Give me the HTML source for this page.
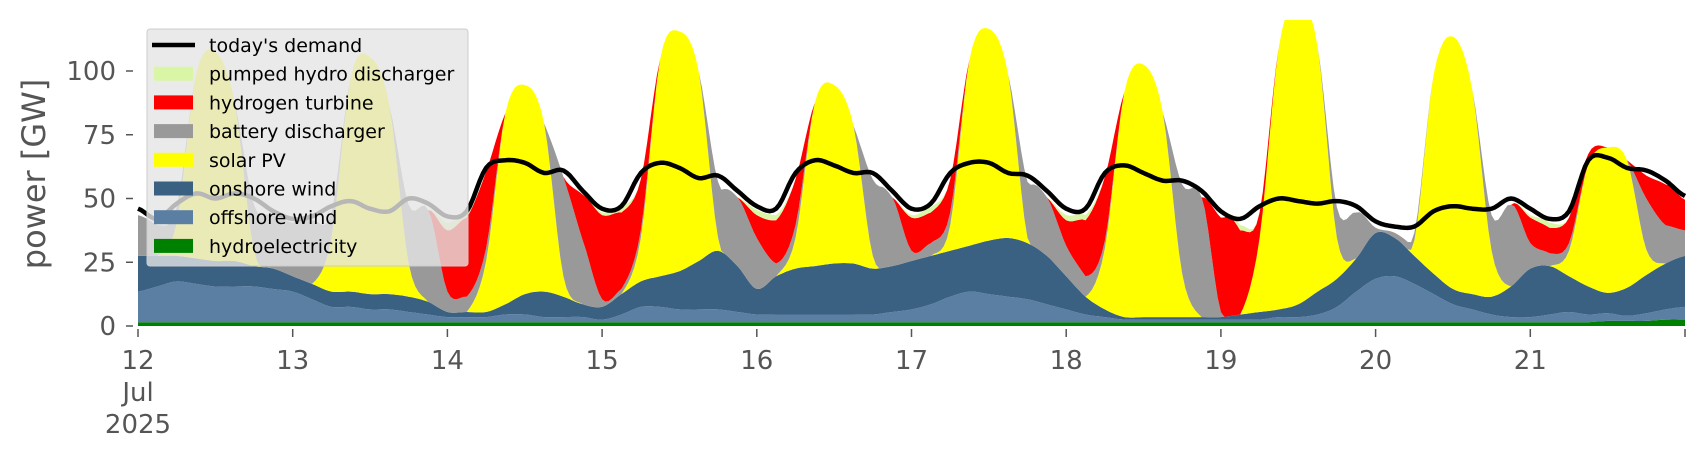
<!DOCTYPE html>
<html><head><meta charset="utf-8">
<style>
html,body{margin:0;padding:0;background:#fff;}
svg{display:block;font-family:"DejaVu Sans","Liberation Sans",sans-serif;}
</style></head>
<body>
<svg id="chart" width="1706" height="460" viewBox="0 0 1706 460">
  <g id="areas"></g>
  <g id="demandg"></g>
  <g id="axes"></g>
  <g id="legend"></g>
</svg>
<script>
// time: 3-hourly from 12 Jul 00:00 to 22 Jul 00:00 (81 points)
const startDay = 12;
const stepDays = 0.125;
const hydro = [1.5,1.5,1.5,1.5,1.5,1.5,1.5,1.5, 1.5,1.5,1.5,1.5,1.5,1.5,1.5,1.5, 1.5,1.5,1.5,1.5,1.5,1.5,1.5,1.5, 1.5,1.5,1.5,1.5,1.5,1.5,1.5,1.5, 1.5,1.5,1.5,1.5,1.5,1.5,1.5,1.5, 1.5,1.5,1.5,1.5,1.5,1.5,1.5,1.5, 1.5,1.5,1.5,1.5,1.5,1.5,1.5,1.5, 1.5,1.5,1.5,1.5,1.5,1.5,1.5,1.5, 1.5,1.5,1.5,1.5,1.5,1.5,1.5,1.5, 1.5,1.5,1.5,1.5,2,2,2,2.5, 2.5];
const offshore = [12,14,16,15,14,14,14,13, 12,9,6,6,5,5,4,3, 2,2,2,3,3,2,2,2, 1,3,6,6,5,5,5,4, 3,3,3,3,3,3,3,4, 5,7,10,12,11,10,9,7, 5,3,2,1,1,1,1,1, 1,1,1,2,2,3,6,12, 17,18,15,11,7,5,3,2, 2,3,4,3,3,2,3,4, 5];
const onshore = [14,12,10,10,10,10,8,8, 6,6,6,6,6,6,6,5, 2,2,2,4,8,10,8,5, 5,8,10,12,15,19,23,18, 10,15,18,19,20,20,18,18, 19,19,18,18,21,23,22,19, 13,7,3,1,1,1,1,1, 1,2,3,3,5,9,11,13, 18,15,11,8,6,6,7,12, 19,19,14,11,8,11,15,18, 20];
const solar = [0,0,13,72,82,62,6,0, 0,0,21,84,93,74,13,0, 0,0,20,75,82,66,8,0, 0,0,17,85,94,74,5,0, 0,0,12,64,70,54,5,0, 0,0,10,73,83,64,2,0, 0,0,24,88,99,80,17,0, 0,0,29,103,119,96,16,0, 0,0,6,78,99,80,18,0, 0,0,10,48,57,50,10,0, 0];
const battery = [16,12,6,0,0,0,18,21, 21,25,10,0,0,0,23,36, 8,6,5,0,0,0,39,25, 3,2,3,0,0,0,22,27, 20,5,5,0,0,0,30,27, 4,5,5,0,0,0,22,23, 12,8,3,0,0,0,35,47, 2,0,0,0,0,0,12,18, 2,2,3,0,0,0,14,32, 10,5,3,0,0,0,20,15, 10];
const hydrogen = [0,0,0,0,0,0,0,0, 0,0,0,0,0,0,0,0, 24,31,30,0,0,0,0,18, 33,30,20,0,0,0,0,0, 9,17,18,0,0,0,0,0, 13,12,13,0,0,0,0,0, 10,22,25,0,0,0,0,0, 37,33,10,0,0,0,0,0, 0,0,0,0,0,0,0,0, 10,10,10,4,0,0,9,16, 12];
const pumped = [0,0,0,0,0,0,0,0, 0,0,0,0,0,0,0,0, 3,1,0,0,0,0,0,0, 1,2,0,0,0,0,0,0, 2,2,0,0,0,0,0,0, 1,2,0,0,0,0,0,0, 2,2,0,0,0,0,0,0, 0,2,0,0,0,0,0,0, 0,0,0,0,0,0,0,0, 1,2,0,0,0,0,0,0, 0];
const demand = [46,42,48,52,50,52,50,45, 42,43,47,49,46,45,50,48, 43,45,62,65,64,60,61,53, 46,47,60,64,62,58,59,53, 47,46,60,65,63,60,60,53, 46,48,60,64,64,60,59,53, 46,46,60,63,60,57,57,53, 45,42,47,50,49,48,49,47, 41,39,39,45,47,46,46,50, 46,42,45,65,66,62,61,57, 51];
const yTicks = [0,25,50,75,100];
const xTicks = [12,13,14,15,16,17,18,19,20,21];
const seriesNames = ["hydroelectricity","offshore wind","onshore wind","solar PV","battery discharger","hydrogen turbine","pumped hydro discharger"];
const seriesColors = ["#008000","#5b7fa3","#3b6182","#ffff00","#999999","#ff0000","#d9f5a6"];

const NS="http://www.w3.org/2000/svg";
const X0=138, X1=1685, Y0=326, YTOP=20, PXGW=2.55, SUB=6;
function xs(d){return X0+(d-startDay)/10*(X1-X0);}
function ys(v){return Y0-v*PXGW;}
function mk(tag,attrs,parent){const e=document.createElementNS(NS,tag);for(const k in attrs)e.setAttribute(k,attrs[k]);parent.appendChild(e);return e;}
// Catmull-Rom resampling of a series (rendering only), clamped at 0
function smooth(v){
  const out=[];const m=v.length;
  for(let i=0;i<m-1;i++){
    const p0=v[Math.max(0,i-1)],p1=v[i],p2=v[i+1],p3=v[Math.min(m-1,i+2)];
    for(let s=0;s<SUB;s++){
      const t=s/SUB,t2=t*t,t3=t2*t;
      const val=0.5*((2*p1)+(-p0+p2)*t+(2*p0-5*p1+4*p2-p3)*t2+(-p0+3*p1-3*p2+p3)*t3);
      out.push(Math.max(0,val));
    }
  }
  out.push(v[m-1]);
  return out;
}

const defs=mk('defs',{},document.getElementById('chart'));
const cp=mk('clipPath',{id:'plotclip'},defs);
mk('rect',{x:X0,y:YTOP,width:X1-X0,height:Y0-YTOP+3},cp);

const stack=[hydro,offshore,onshore,solar,battery,hydrogen,pumped].map(smooth);
const dem=smooth(demand);
const n=dem.length;
const sx=i=>xs(startDay+i*stepDays/SUB);
const areas=document.getElementById('areas');
areas.setAttribute('clip-path','url(#plotclip)');
let lower=new Array(n).fill(0);
stack.forEach((s,k)=>{
  const upper=lower.map((v,i)=>v+s[i]);
  let d='';
  for(let i=0;i<n;i++){d+=(i?'L':'M')+sx(i).toFixed(1)+','+ys(upper[i]).toFixed(1);}
  for(let i=n-1;i>=0;i--){d+='L'+sx(i).toFixed(1)+','+ys(lower[i]).toFixed(1);}
  const p=mk('path',{d:d+'Z',fill:seriesColors[k]},areas);
  
  
  lower=upper;
});
let dd='';
for(let i=0;i<n;i++){dd+=(i?'L':'M')+sx(i).toFixed(1)+','+ys(dem[i]).toFixed(1);}
const dl=mk('path',{d:dd,fill:'none',stroke:'#000','stroke-width':4.5,'stroke-linejoin':'round'},document.getElementById('demandg'));



const ax=document.getElementById('axes');
yTicks.forEach(t=>{
  const y=ys(t);
  const l=mk('line',{x1:126,x2:133,y1:y,y2:y,stroke:'#555','stroke-width':1.5},ax);
  
  
  const tx=mk('text',{x:116,y:y+9,'text-anchor':'end','font-size':26,fill:'#555'},ax);
  tx.textContent=t;
  
  
});
xTicks.concat([22]).forEach(t=>{
  const x=xs(t);
  const l=mk('line',{x1:x,x2:x,y1:329,y2:337,stroke:'#555','stroke-width':1.5},ax);
  
  
});
xTicks.forEach(t=>{
  const x=xs(t);
  const tx=mk('text',{x:x,y:369,'text-anchor':'middle','font-size':26,fill:'#555'},ax);
  tx.textContent=t;
  
  
});
[["Jul",401],["2025",433]].forEach(([s,y])=>{
  const tx=mk('text',{x:X0,y:y,'text-anchor':'middle','font-size':26,fill:'#555'},ax);
  tx.textContent=s;
  
  
});
const yl=mk('text',{x:0,y:0,transform:'translate(45,174) rotate(-90)','text-anchor':'middle','font-size':32,fill:'#555'},ax);
yl.textContent='power [GW]';



const lg=document.getElementById('legend');
const bg=mk('rect',{x:147,y:29,width:321,height:237,rx:3,fill:'#e5e5e5','fill-opacity':0.8,stroke:'#cccccc','stroke-width':1},lg);


const legNames=["today's demand"].concat(seriesNames.slice().reverse());
const legColors=["#000"].concat(seriesColors.slice().reverse());
legNames.forEach((nm,i)=>{
  const y=45+i*28.7;
  const g=mk('g',{},lg);
  
  
  if(i===0){mk('line',{x1:152,x2:195,y1:y,y2:y,stroke:'#000','stroke-width':4.5},g);}
  else{mk('rect',{x:154,y:y-7,width:39,height:14,fill:legColors[i]},g);}
  const tx=mk('text',{x:209,y:y+7,'font-size':19,fill:'#000'},g);
  tx.textContent=nm;
});
</script>
</body></html>
